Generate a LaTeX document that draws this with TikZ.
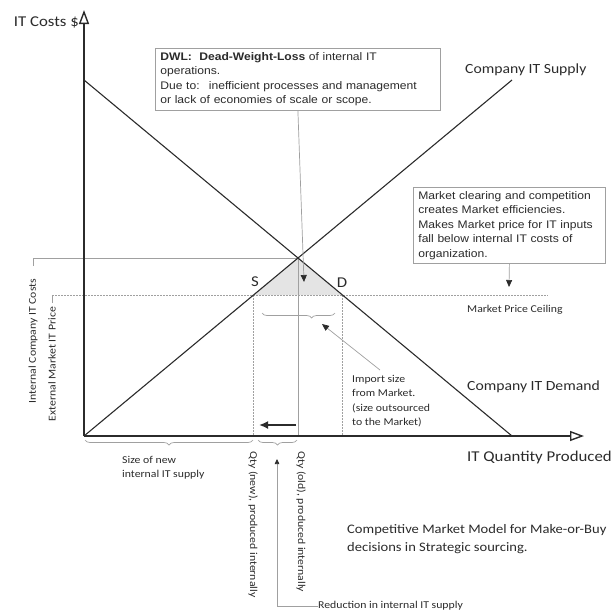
\documentclass[tikz,border=0pt]{standalone}
\usepackage{fontspec}
\setmainfont{Carlito}[FakeStretch=1.12]
\newfontfamily\boxfont{Liberation Sans}[FakeStretch=1.1]
\usetikzlibrary{arrows.meta,decorations.pathreplacing}
\definecolor{ink}{HTML}{2B2B2B}
\definecolor{guide}{HTML}{A0A0A0}
\definecolor{dwlfill}{HTML}{E4E4E4}
\begin{document}
\begin{tikzpicture}[x=1pt,y=-1pt,
  axis/.style={ink, line width=1.6pt},
  curve/.style={ink, line width=1.1pt},
  guideline/.style={guide, line width=0.7pt},
  dotline/.style={guide, line width=0.8pt, dash pattern=on 1.5pt off 1.5pt},
  bracket/.style={guide, line width=0.7pt, decorate,
    decoration={brace, mirror, amplitude=5pt, aspect=#1}},
  bracket/.default=0.5,
  note/.style={draw=guide, line width=0.8pt, fill=white,
    font=\boxfont\fontsize{11}{14.5}\selectfont, text=ink, align=left,
    inner xsep=5pt, inner ysep=4pt, anchor=north west},
  lbl/.style={text=ink, inner sep=0pt},
  small/.style={lbl, font=\fontsize{10.5}{14.5}\selectfont},
  big/.style={lbl, font=\fontsize{14}{16}\selectfont},
  tip/.style={-{Triangle[length=7pt,width=6pt,color=ink]}},
  axtip/.style={-{Triangle[open,length=14pt,width=10pt,line width=1.4pt]}},
]
\useasboundingbox (0,0) rectangle (616,614);

% key points of the model
\coordinate (O) at (84,436);
\coordinate (ytop) at (84,10);
\coordinate (xend) at (584,436);
\coordinate (dtop) at (84,80);
\coordinate (dbot) at (512,436);
\coordinate (stop) at (512,80);
\coordinate (E) at (298,258);
\coordinate (S) at (253.5,295);
\coordinate (D) at (342.5,295);

% dead-weight-loss triangle
\fill[dwlfill] (S) -- (E) -- (D) -- cycle;

% guide lines
\coordinate (costtick) at (33,266);
\coordinate (costleft) at (33,258);
\draw[guideline] (costtick) -- (costleft) -- (E);
\coordinate (pricetick) at (52,303);
\coordinate (priceleft) at (52,295);
\coordinate (priceright) at (548,295);
\draw[guideline] (pricetick) -- (priceleft);
\draw[dotline] (priceleft) -- (priceright);
\coordinate (Sfoot) at (253.5,436);
\coordinate (Dfoot) at (342.5,436);
\coordinate (Efoot) at (298,436);
\draw[dotline] (S) -- (Sfoot);
\draw[dotline] (D) -- (Dfoot);
\draw[guideline] (E) -- (Efoot);

% supply and demand
\draw[curve] (dtop) -- (dbot);
\draw[curve] (O) -- (stop);

% axes
\draw[axis, axtip] (O) -- (ytop);
\draw[axis, axtip] (O) -- (xend);

% axis and curve labels
\node[big, anchor=east, font=\fontsize{15}{16}\selectfont] (ylab) at (79,22) {IT Costs \textdollar};
\node[big, anchor=west, font=\fontsize{15}{16}\selectfont] (xlab) at (467,457) {IT Quantity Produced};
\node[big, anchor=west] (slab) at (465,70) {Company IT Supply};
\node[big, anchor=west] (dlab) at (467,387) {Company IT Demand};
\node[lbl, anchor=west, font=\fontsize{10.5}{12}\selectfont] (ceil) at (467,310) {Market Price Ceiling};
\node[big, font=\fontsize{15}{16}\selectfont] (Slab) at (255,282) {S};
\node[big, font=\fontsize{15}{16}\selectfont] (Dlab) at (342,283) {D};
\node[small, rotate=90] (costlab) at (33,341) {Internal Company IT Costs};
\node[small, rotate=90] (pricelab) at (52,364) {External Market IT Price};

% DWL note
\node[note, text width=275pt] (dwl) at (155,48)
  {\textbf{DWL:}\,\, \textbf{Dead-Weight-Loss} of internal IT\\
   operations.\\
   Due to:\,\, inefficient processes and management\\
   or lack of economies of scale or scope.};
\coordinate (dwltip) at (304,282);
\draw[guideline, tip] (dwl.south) -- (dwltip);

% market note
\node[note, text width=182pt] (mkt) at (413,187)
  {Market clearing and competition\\
   creates Market efficiencies.\\
   Makes Market price for IT inputs\\
   fall below internal IT costs of\\
   organization.};
\coordinate (mkttip) at (509,287);
\draw[guideline, tip] (mkt.south) -- (mkttip);

% import from the market
\draw[bracket=0.68] (262,313) -- (335,313);
\node[small, anchor=north west, align=left] (imp) at (352,375)
  {Import size\\ from Market.\\ (size outsourced\\ to the Market)};
\coordinate (impfrom) at (380,370);
\coordinate (impto) at (322,324);
\draw[guideline, tip] (impfrom) -- (impto);

% shift of internal supply
\coordinate (la1) at (296,425);
\coordinate (la2) at (259,425);
\draw[ink, line width=1.8pt, -{Latex[length=9pt,width=8pt]}] (la1) -- (la2);

% quantities below the axis
\draw[bracket] (85,440) -- (253,440);
\draw[bracket] (258,440) -- (297,440);
\node[small, anchor=north west, align=left] (newsize) at (122,456)
  {Size of new\\ internal IT supply};
\node[small, rotate=-90, anchor=west] (qnew) at (253,451) {Qty (new), produced internally};
\node[small, rotate=-90, anchor=west] (qold) at (301,451) {Qty (old), produced internally};

% reduction in internal supply
\node[small, anchor=west] (red) at (318,606) {Reduction in internal IT supply};
\coordinate (redtop) at (277,459);
\draw[guideline, -{Triangle[length=5pt,width=4.5pt,color=ink]}] (red.west) -| (redtop);

% caption
\node[lbl, anchor=north west, align=left, font=\fontsize{13}{18}\selectfont] (cap) at (347,524)
  {Competitive Market Model for Make-or-Buy\\ decisions in Strategic sourcing.};
\end{tikzpicture}
\end{document}
